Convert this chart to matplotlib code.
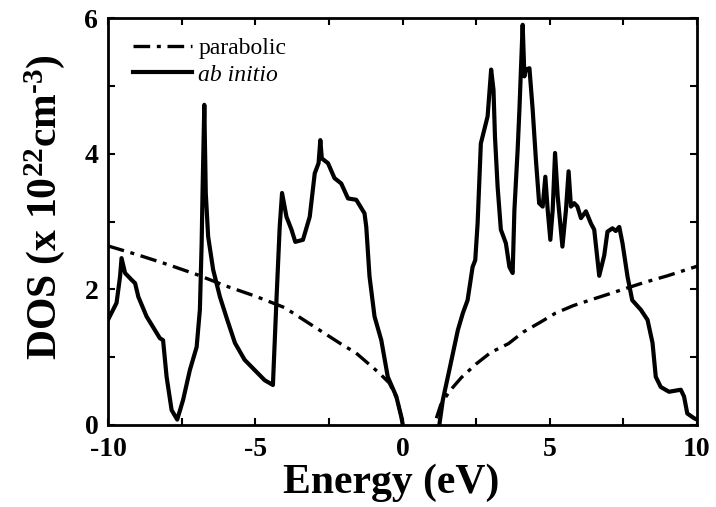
import matplotlib
matplotlib.use("Agg")
import matplotlib.pyplot as plt
import numpy as np

# ---------------- data ----------------
# ab initio DOS, valence part (E < 0)
abv_E = [-10.0, -9.71, -9.59, -9.54, -9.42, -9.2, -9.08, -8.97, -8.69, -8.24, -8.13,
         -8.01, -7.84, -7.65, -7.45, -7.22, -6.99, -6.88, -6.82, -6.79, -6.73, -6.68,
         -6.6, -6.43, -6.2, -5.95, -5.69, -5.36, -5.02, -4.68, -4.4, -4.28, -4.17,
         -4.09, -3.94, -3.77, -3.64, -3.38, -3.15, -2.98, -2.85, -2.79, -2.74, -2.53,
         -2.31, -2.08, -1.85, -1.57, -1.29, -1.23, -1.12, -0.95, -0.72, -0.5, -0.21,
         -0.04, 0.01]
abv_D = [1.55, 1.80, 2.19, 2.46, 2.24, 2.14, 2.09, 1.89, 1.60, 1.28, 1.25,
         0.71, 0.22, 0.08, 0.37, 0.81, 1.15, 1.70, 2.68, 3.42, 4.72, 3.42,
         2.78, 2.29, 1.89, 1.55, 1.21, 0.96, 0.81, 0.66, 0.59, 1.84, 2.92,
         3.42, 3.07, 2.88, 2.70, 2.73, 3.07, 3.71, 3.86, 4.20, 3.93, 3.86,
         3.64, 3.56, 3.34, 3.32, 3.12, 2.92, 2.19, 1.60, 1.25, 0.71, 0.42,
         0.12, 0.0]
# ab initio DOS, conduction part (E > 1.2)
abc_E = [1.25, 1.37, 1.59, 1.88, 2.05, 2.21, 2.38, 2.47, 2.55, 2.66,
         2.89, 3.01, 3.09, 3.14, 3.23, 3.34, 3.51, 3.63, 3.74, 3.80, 3.91, 3.97,
         4.08, 4.14, 4.19, 4.31, 4.42, 4.53, 4.64, 4.76, 4.85, 4.93, 5.02, 5.10,
         5.18, 5.27, 5.43, 5.55, 5.64, 5.72, 5.83, 5.94, 6.06, 6.23, 6.40, 6.51,
         6.68, 6.85, 6.96, 7.13, 7.24, 7.36, 7.47, 7.64, 7.80, 8.09, 8.32, 8.49,
         8.6, 8.77, 9.05, 9.45, 9.56, 9.67, 9.9, 10.0]
abc_D = [0.0, 0.37, 0.81, 1.40, 1.65, 1.84, 2.33, 2.43, 2.97, 4.15,
         4.55, 5.24, 4.94, 4.25, 3.51, 2.88, 2.68, 2.33, 2.24, 3.17, 4.06, 4.65,
         5.90, 5.14, 5.24, 5.26, 4.65, 3.91, 3.27, 3.22, 3.66, 3.17, 2.73, 3.17,
         4.01, 3.37, 2.63, 3.17, 3.74, 3.22, 3.27, 3.22, 3.05, 3.15, 2.97, 2.88,
         2.20, 2.50, 2.85, 2.90, 2.86, 2.92, 2.68, 2.19, 1.84, 1.70, 1.55, 1.21,
         0.71, 0.56, 0.49, 0.52, 0.42, 0.17, 0.10, 0.08]

# parabolic-band DOS
parab_val_E = [-10.0, -9.0, -8.0, -7.0, -6.0, -5.0, -4.0, -3.0, -2.0, -1.6, -0.8, -0.45, -0.2, 0.0]
parab_val_D = [2.64, 2.51, 2.37, 2.22, 2.05, 1.90, 1.73, 1.45, 1.17, 1.07, 0.77, 0.62, 0.40, 0.05]
parab_con_E = [1.15, 1.3, 1.6, 2.0, 2.5, 3.0, 3.6, 4.1, 4.7, 5.2, 5.8, 6.5, 7.0, 7.7, 8.2, 9.0, 10.0]
parab_con_D = [0.10, 0.30, 0.50, 0.70, 0.90, 1.07, 1.20, 1.37, 1.52, 1.65, 1.76, 1.86, 1.93, 2.03, 2.10, 2.20, 2.34]

xticks = [-10, -5, 0, 5, 10]
yticks = [0, 2, 4, 6]

# ---------------- style ----------------
plt.rcParams['font.family'] = ['Liberation Serif', 'DejaVu Serif']
plt.rcParams['mathtext.fontset'] = 'custom'
plt.rcParams['mathtext.rm'] = 'Liberation Serif:bold'
plt.rcParams['mathtext.bf'] = 'Liberation Serif:bold'
plt.rcParams['mathtext.it'] = 'Liberation Serif:bold:italic'

fig = plt.figure(figsize=(7.16, 5.07), dpi=100)
ax = fig.add_axes([108/716, 1-425/507, (697-108)/716, (425-18)/507])

dash = (0, (5, 2.0, 1.2, 2.0))
ax.plot(parab_val_E, parab_val_D, color='black', lw=2.4, linestyle=dash, label='parabolic')
ax.plot(parab_con_E, parab_con_D, color='black', lw=2.4, linestyle=dash)
ax.plot(abv_E, abv_D, color='black', lw=3.0, solid_joinstyle='round', label='ab initio')
ax.plot(abc_E, abc_D, color='black', lw=3.0, solid_joinstyle='round')

ax.set_xlim(-10, 10)
ax.set_ylim(0, 6)
ax.set_xticks(xticks)
ax.set_yticks(yticks)
ax.set_xticks(np.arange(-10, 10.01, 2.5), minor=True)
ax.set_yticks(np.arange(0, 6.01, 1), minor=True)
ax.set_xticklabels([str(v) for v in xticks], fontsize=20, fontweight='bold')
ax.set_yticklabels([str(v) for v in yticks], fontsize=20, fontweight='bold')
ax.tick_params(which='both', direction='in', top=True, right=True, length=5, width=1.5)
ax.tick_params(axis='x', which='major', pad=9)
ax.tick_params(axis='y', which='major', pad=7)
for s in ax.spines.values():
    s.set_linewidth(2.0)

ax.set_xlabel('Energy (eV)', fontsize=30, fontweight='bold')
ax.set_ylabel('DOS (x 10$^{22}$cm$^{\u2010 3}$)', fontsize=30, fontweight='bold')
ax.xaxis.set_label_coords(0.48, -0.095)
ax.yaxis.set_label_coords(-0.07, 0.535)

leg = ax.legend(loc='upper left', bbox_to_anchor=(0.035, 0.963), frameon=False,
                fontsize=17, handlelength=2.5, handletextpad=0.25, labelspacing=0.2,
                borderpad=0.2, borderaxespad=0)
leg.get_texts()[1].set_fontstyle('italic')

fig.savefig('out.png', dpi=100)
